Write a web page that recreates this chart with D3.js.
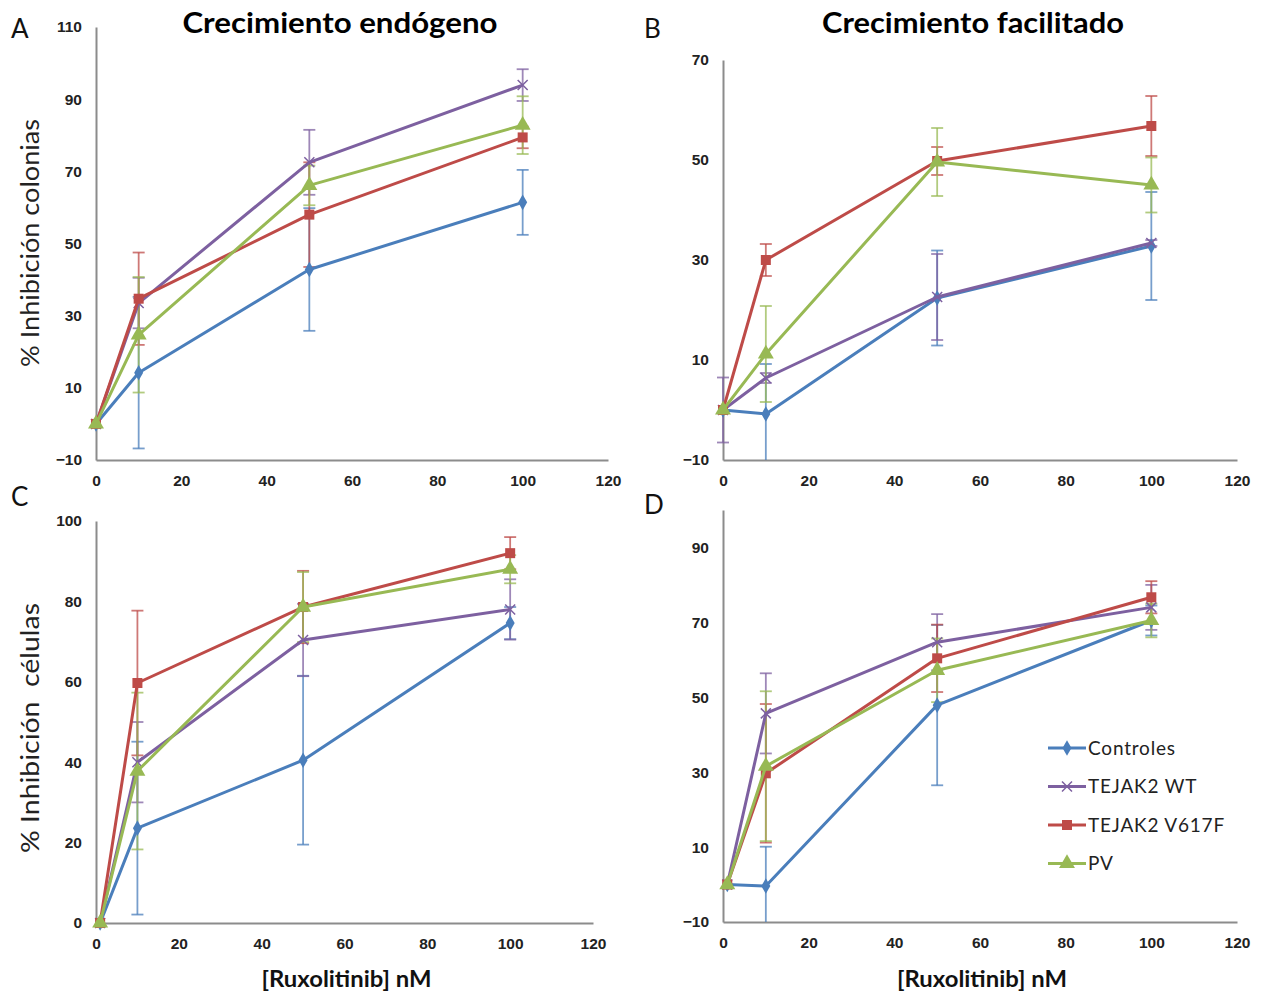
<!DOCTYPE html>
<html>
<head>
<meta charset="utf-8">
<script src="https://cdn.jsdelivr.net/npm/d3@7"></script>
<style>
  body { margin: 0; background: #fff; }
  svg { display: block; font-family: Lato, "Open Sans", sans-serif; }
</style>
</head>
<body>
<svg id="chart" width="1262" height="992"></svg>
<script>
// series
const seriesNames = ["Controles", "TEJAK2 WT", "TEJAK2 V617F", "PV"];
const seriesColors = ["#4a7ebb", "#7d60a0", "#be4b48", "#98b954"];
const seriesMarkers = ["diamond", "cross", "square", "triangle"];

// doses
const dosesColonies = [0, 10, 50, 100];
const dosesCells = [1, 10, 50, 100];

// A: Crecimiento endógeno
const aControles = [0, 14.2, 42.8, 61.4], aControlesErr = [0, 21, 17, 9];
const aWT = [0, 33.5, 72.5, 93.9], aWTErr = [0, 7, 9, 4.4];
const aV617F = [0, 34.7, 58, 79.4], aV617FErr = [0, 12.8, 14.5, 3];
const aPV = [0, 24.7, 66.1, 82.8], aPVErr = [0, 16, 5.5, 8];

// B: Crecimiento facilitado
const bControles = [0, -0.8, 22.4, 32.8], bControlesErr = [0, 10, 9.5, 10.8];
const bWT = [0, 6.4, 22.6, 33.4], bWTErr = [6.5, 1, 8.6, 0.6];
const bV617F = [0, 30, 49.8, 56.8], bV617FErr = [0, 3.2, 2.8, 6];
const bPV = [0, 11.2, 49.6, 45], bPVErr = [0, 9.6, 6.8, 5.5];

// C: células
const cControles = [0, 23.6, 40.5, 74.6], cControlesErr = [0, 21.5, 21, 4];
const cWT = [0, 40, 70.4, 78], cWTErr = [0, 10, 9, 7.5];
const cV617F = [0, 59.7, 78.6, 92], cV617FErr = [0, 18, 9, 4];
const cPV = [0, 37.8, 78.6, 88], cPVErr = [0, 19.5, 8.7, 3.5];

// D
const dControles = [0, -0.4, 47.9, 70.5], dControlesErr = [0, 10.5, 21.4, 4];
const dWT = [0, 45.7, 64.7, 74], dWTErr = [0, 10.7, 7.5, 6];
const dV617F = [0, 29.7, 60.4, 76.7], dV617FErr = [0, 18.5, 9, 4.3];
const dPV = [0, 31.6, 57.2, 70.5], dPVErr = [0, 20, 8.5, 4.5];

const xTicks = [0, 20, 40, 60, 80, 100, 120];

const panels = [
  { letter: "A", title: "Crecimiento endógeno", titleW: 315, titleX: 340, doses: dosesColonies,
    values: [aControles, aWT, aV617F, aPV], errs: [aControlesErr, aWTErr, aV617FErr, aPVErr],
    yDomain: [-10, 110], yTicks: [-10, 10, 30, 50, 70, 90, 110],
    x: [96, 608], y: [460, 27], letterPos: [11, 38], titleY: 33 },
  { letter: "B", title: "Crecimiento facilitado", titleW: 302, titleX: 973, doses: dosesColonies,
    values: [bControles, bWT, bV617F, bPV], errs: [bControlesErr, bWTErr, bV617FErr, bPVErr],
    yDomain: [-10, 70], yTicks: [-10, 10, 30, 50, 70],
    x: [723, 1237], y: [460, 60], letterPos: [644, 38], titleY: 33 },
  { letter: "C", doses: dosesCells,
    values: [cControles, cWT, cV617F, cPV], errs: [cControlesErr, cWTErr, cV617FErr, cPVErr],
    yDomain: [0, 100], yTicks: [0, 20, 40, 60, 80, 100],
    x: [96, 593], y: [923, 521], letterPos: [11, 506], xLabel: true },
  { letter: "D", doses: dosesCells,
    values: [dControles, dWT, dV617F, dPV], errs: [dControlesErr, dWTErr, dV617FErr, dPVErr],
    yDomain: [-10, 100], yTicks: [-10, 10, 30, 50, 70, 90],
    x: [723, 1237], y: [922, 510], letterPos: [644, 514], xLabel: true, legend: true }
];

const svg = d3.select("#chart");
svg.append("rect").attr("width", 1262).attr("height", 992).attr("fill", "#fff");

function marker(g, type, color, size) {
  if (type === "diamond") {
    g.append("path").attr("d", d3.symbol(d3.symbolDiamond, size * 7)()).attr("fill", color);
  } else if (type === "square") {
    g.append("rect").attr("x", -5).attr("y", -5).attr("width", 10).attr("height", 10).attr("fill", color);
  } else if (type === "triangle") {
    g.append("path").attr("d", d3.symbol(d3.symbolTriangle, size * 11)()).attr("fill", color);
  } else {
    g.append("path").attr("d", "M-5,-5L5,5M-5,5L5,-5").attr("stroke", color).attr("stroke-width", 1.5);
  }
}

panels.forEach(p => {
  const x = d3.scaleLinear().domain([0, 120]).range(p.x);
  const y = d3.scaleLinear().domain(p.yDomain).range(p.y);
  const g = svg.append("g");

  // axes
  const yAxis = g.append("g").attr("transform", `translate(${p.x[0]},0)`)
    .call(d3.axisLeft(y).tickValues(p.yTicks).tickSize(0).tickPadding(14));
  const xAxis = g.append("g").attr("transform", `translate(0,${p.y[0]})`)
    .call(d3.axisBottom(x).tickValues(xTicks).tickSize(0).tickPadding(15));
  [yAxis, xAxis].forEach(a => {
    a.select(".domain").attr("stroke", "#8c8c8c").attr("stroke-width", 2);
    a.selectAll("text").attr("font-size", 15.5).attr("fill", "#222").attr("font-weight", 600);
  });

  // error bars
  p.values.forEach((vals, si) => {
    const col = seriesColors[si];
    vals.forEach((v, i) => {
      const e = p.errs[si][i];
      if (!e) return;
      const cx = x(p.doses[i]);
      const lo = Math.max(v - e, p.yDomain[0]);
      const eg = g.append("g").attr("stroke", col).attr("stroke-width", 1.8).attr("stroke-opacity", 0.75);
      eg.append("line").attr("x1", cx).attr("x2", cx).attr("y1", y(v + e)).attr("y2", y(lo));
      eg.append("line").attr("x1", cx - 6).attr("x2", cx + 6).attr("y1", y(v + e)).attr("y2", y(v + e));
      if (v - e >= p.yDomain[0])
        eg.append("line").attr("x1", cx - 6).attr("x2", cx + 6).attr("y1", y(v - e)).attr("y2", y(v - e));
    });
  });

  // lines and markers
  const line = d3.line().x((d, i) => x(p.doses[i])).y(d => y(d));
  p.values.forEach((vals, si) => {
    const col = seriesColors[si];
    g.append("path").datum(vals).attr("d", line).attr("fill", "none")
      .attr("stroke", col).attr("stroke-width", 3).attr("stroke-linejoin", "round");
    vals.forEach((v, i) => {
      const mg = g.append("g").attr("transform", `translate(${x(p.doses[i])},${y(v)})`);
      marker(mg, seriesMarkers[si], col, 10);
    });
  });

  // panel letter & title
  svg.append("text").attr("x", p.letterPos[0]).attr("y", p.letterPos[1])
    .attr("font-size", 26).attr("fill", "#111").text(p.letter);
  if (p.title) {
    svg.append("text").attr("x", p.titleX).attr("y", p.titleY)
      .attr("text-anchor", "middle").attr("font-size", 29).attr("font-weight", 700)
      .attr("textLength", p.titleW).attr("lengthAdjust", "spacingAndGlyphs")
      .attr("fill", "#000").text(p.title);
  }
  if (p.xLabel) {
    svg.append("text").attr("x", (p.x[0] + p.x[1]) / 2 + 2).attr("y", 987)
      .attr("text-anchor", "middle").attr("font-size", 22).attr("font-weight", 700)
      .attr("textLength", 170).attr("lengthAdjust", "spacingAndGlyphs")
      .attr("fill", "#111").text("[Ruxolitinib] nM");
  }

  if (p.legend) {
    const lg = svg.append("g").attr("transform", "translate(1048,748)");
    seriesNames.forEach((name, si) => {
      const row = lg.append("g").attr("transform", `translate(0,${si * 38.5})`);
      row.append("line").attr("x1", 0).attr("x2", 38).attr("stroke", seriesColors[si]).attr("stroke-width", 3);
      marker(row.append("g").attr("transform", "translate(19,0)"), seriesMarkers[si], seriesColors[si], 10);
      row.append("text").attr("x", 40).attr("dy", "0.35em").attr("font-size", 19)
        .attr("letter-spacing", 0.8).attr("fill", "#222").text(name);
    });
  }
});

// y axis titles
svg.append("text").attr("transform", "translate(39,243) rotate(-90)")
  .attr("text-anchor", "middle").attr("font-size", 25).attr("fill", "#222")
  .attr("textLength", 248).attr("lengthAdjust", "spacingAndGlyphs")
  .text("% Inhibición colonias");
svg.append("text").attr("transform", "translate(39,728) rotate(-90)")
  .attr("text-anchor", "middle").attr("font-size", 25).attr("fill", "#222")
  .attr("textLength", 250).attr("lengthAdjust", "spacingAndGlyphs")
  .attr("xml:space", "preserve").text("% Inhibición  células");
</script>
</body>
</html>
